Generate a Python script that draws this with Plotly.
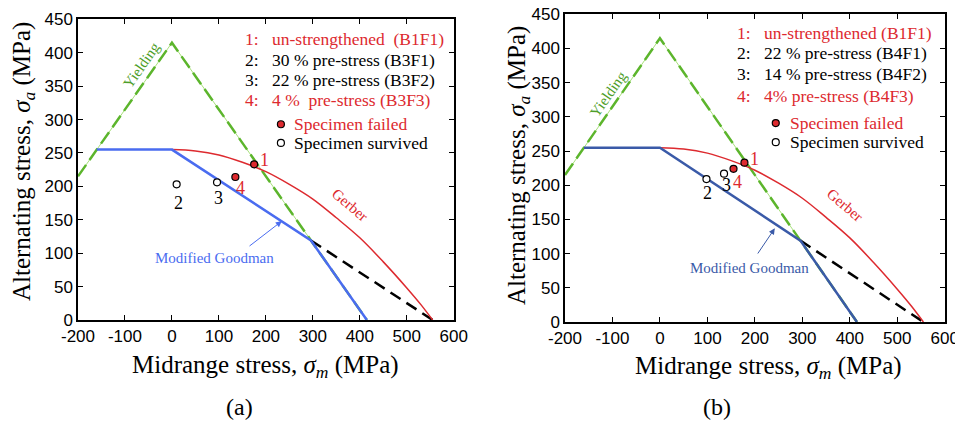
import plotly.graph_objects as go

# ---- data ----
x_ticks = [-200, -100, 0, 100, 200, 300, 400, 500, 600]
x_ticktext = ["-200", "-100", "0", "100", "200", "300", "400", "500", "600"]
y_ticks = [0, 50, 100, 150, 200, 250, 300, 350, 400, 450]

yield_x = [-200, 0, 415]
yield_y = [215, 415, 0]

goodman_x = [-160, 0, 296, 415]
goodman_y = [255, 255, 119, 0]

goodman_ext_x = [296, 555]
goodman_ext_y = [119, 0]

gerber_x = [0, 50, 100, 150, 200, 250, 300, 350, 400, 450, 500, 530, 555]
gerber_y = [255, 253, 247, 236, 222, 203, 181, 153, 123, 87, 48, 23, 0]

# panel (a) specimens
a_labels = ["1", "2", "3", "4"]
a_sm = [175, 10, 96, 135]
a_sa = [233, 203, 206, 214]
a_failed = [True, False, False, True]

# panel (b) specimens
b_labels = ["1", "2", "3", "4"]
b_sm = [178, 98, 135, 155]
b_sa = [233, 209, 217, 224]
b_failed = [True, False, False, True]

a_legend = ["un-strengthened  (B1F1)", "30 % pre-stress (B3F1)",
            "22 % pre-stress (B3F2)", "4 %  pre-stress (B3F3)"]
b_legend = ["un-strengthened (B1F1)", "22 % pre-stress (B4F1)",
            "14 % pre-stress (B4F2)", "4% pre-stress (B4F3)"]
legend_red = [True, False, False, True]

# ---- styles ----
RED = "#dd2a2f"
GREEN = "#5cb52c"
GREEN_T = "#4e9e2a"
BLUE_A = "#4a6cf0"
BLUE_B = "#3a5aa8"
SERIF = "Liberation Serif"
SANS = "Liberation Sans"

fig = go.Figure()

panels = [
    dict(xa="x", ya="y", blue=BLUE_A, sm=a_sm, sa=a_sa, failed=a_failed, labels=a_labels,
         lab_pos=[(198, 239), (13, 175), (100, 182), (145, 197)],
         legend=a_legend, leg_num_x=151, leg_txt_x=208, leg_y=[421, 389, 359, 329],
         mk_x=232, mk_txt_x=255, mk_y=[293, 265],
         gerber_lab=(379, 172), yield_lab=(-64, 381),
         goodman_lab=(91, 93), arrow_head=(234, 148), arrow_tail=(162, 109)),
    dict(xa="x2", ya="y2", blue=BLUE_B, sm=b_sm, sa=b_sa, failed=b_failed, labels=b_labels,
         lab_pos=[(200, 239), (101, 189), (141, 200), (164, 205)],
         legend=b_legend, leg_num_x=158, leg_txt_x=215, leg_y=[423, 394, 363, 330],
         mk_x=244, mk_txt_x=269, mk_y=[291, 263],
         gerber_lab=(389, 171), yield_lab=(-109, 334),
         goodman_lab=(189, 79), arrow_head=(242, 137), arrow_tail=(204, 98)),
]

annotations = []
for p in panels:
    xa, ya = p["xa"], p["ya"]
    fig.add_trace(go.Scatter(x=yield_x, y=yield_y, mode="lines", xaxis=xa, yaxis=ya,
                             line=dict(color="#a8e07c", width=1), showlegend=False, hoverinfo="skip"))
    fig.add_trace(go.Scatter(x=yield_x, y=yield_y, mode="lines", xaxis=xa, yaxis=ya,
                             line=dict(color=GREEN, width=2.5, dash="14px,6px"), showlegend=False))
    fig.add_trace(go.Scatter(x=goodman_ext_x, y=goodman_ext_y, mode="lines", xaxis=xa, yaxis=ya,
                             line=dict(color="black", width=2.5, dash="12px,7px"), showlegend=False))
    fig.add_trace(go.Scatter(x=gerber_x, y=gerber_y, mode="lines", xaxis=xa, yaxis=ya,
                             line=dict(color=RED, width=1.5, shape="spline"), showlegend=False))
    fig.add_trace(go.Scatter(x=goodman_x, y=goodman_y, mode="lines", xaxis=xa, yaxis=ya,
                             line=dict(color=p["blue"], width=2.5), showlegend=False))
    fig.add_trace(go.Scatter(
        x=p["sm"], y=p["sa"], mode="markers", xaxis=xa, yaxis=ya, showlegend=False,
        marker=dict(size=7, color=[RED if f else "white" for f in p["failed"]],
                    line=dict(color="black", width=1.2))))
    fig.add_trace(go.Scatter(
        x=[p["mk_x"], p["mk_x"]], y=p["mk_y"], mode="markers", xaxis=xa, yaxis=ya, showlegend=False,
        marker=dict(size=7, color=[RED, "white"], line=dict(color="black", width=1.2))))
    C = dict(xanchor="center", yanchor="middle", showarrow=False, xref=xa, yref=ya)
    L = dict(xanchor="left", yanchor="middle", showarrow=False, xref=xa, yref=ya)
    for lab, (lx, ly), f in zip(p["labels"], p["lab_pos"], p["failed"]):
        annotations.append(dict(x=lx, y=ly, text=lab,
                                font=dict(family=SERIF, size=18, color=RED if f else "black"), **C))
    for txt, ly, red, num in zip(p["legend"], p["leg_y"], legend_red, range(1, 5)):
        c = RED if red else "black"
        annotations.append(dict(x=p["leg_num_x"], y=ly, text=f"{num}:",
                                font=dict(family=SERIF, size=17.5, color=c), **L))
        annotations.append(dict(x=p["leg_txt_x"], y=ly, text=txt,
                                font=dict(family=SERIF, size=17.5, color=c), **L))
    annotations.append(dict(x=p["mk_txt_x"], y=p["mk_y"][0], text="Specimen failed",
                            font=dict(family=SERIF, size=17.5, color=RED), **L))
    annotations.append(dict(x=p["mk_txt_x"], y=p["mk_y"][1], text="Specimen survived",
                            font=dict(family=SERIF, size=17.5, color="black"), **L))
    annotations.append(dict(x=p["gerber_lab"][0], y=p["gerber_lab"][1], text="Gerber", textangle=40,
                            font=dict(family=SERIF, size=15, color=RED), **C))
    annotations.append(dict(x=p["yield_lab"][0], y=p["yield_lab"][1], text="Yielding", textangle=-55,
                            font=dict(family=SERIF, size=15, color=GREEN_T), **C))
    annotations.append(dict(x=p["goodman_lab"][0], y=p["goodman_lab"][1], text="Modified Goodman",
                            font=dict(family=SERIF, size=15, color=p["blue"]), **C))
    annotations.append(dict(x=p["arrow_head"][0], y=p["arrow_head"][1], xref=xa, yref=ya,
                            ax=p["arrow_tail"][0], ay=p["arrow_tail"][1], axref=xa, ayref=ya,
                            text="", showarrow=True, arrowhead=2, arrowsize=1.2, arrowwidth=1,
                            arrowcolor=p["blue"]))

# page is 963x425; the html body adds an 8px offset, so the figure is 8px smaller
OFF = 8
W, H = 963 - OFF, 425 - OFF

def px(x, y):
    return (x - OFF) / W, 1 - (y - OFF) / H

def xdom(x0, x1):
    return [(x0 - OFF) / W, (x1 - OFF) / W]

def ydom(y_bottom, y_top):
    return [1 - (y_bottom - OFF) / H, 1 - (y_top - OFF) / H]

P = dict(xref="paper", yref="paper", showarrow=False, xanchor="center", yanchor="middle")
for (tx, ty), (yx, yy), (lx, ly), lab in [((265, 366), (24, 162), (239, 407), "(a)"),
                                          ((768, 367), (518, 166), (717, 407), "(b)")]:
    a, b = px(tx, ty)
    annotations.append(dict(x=a, y=b, text="Midrange stress, <i>σ<sub>m</sub></i> (MPa)",
                            font=dict(family=SERIF, size=25, color="black"), **P))
    a, b = px(yx, yy)
    annotations.append(dict(x=a, y=b, textangle=-90,
                            text="Alternating stress, <i>σ<sub>a</sub></i> (MPa)",
                            font=dict(family=SERIF, size=25, color="black"), **P))
    a, b = px(lx, ly)
    annotations.append(dict(x=a, y=b, text=lab,
                            font=dict(family=SERIF, size=24, color="black"), **P))

axis_common = dict(showline=True, linecolor="black", linewidth=1.5, mirror="ticks",
                   ticks="inside", ticklen=5, tickwidth=1, tickcolor="black",
                   showgrid=False, zeroline=False, automargin=False,
                   ticklabeloverflow="allow",
                   tickfont=dict(family=SANS, size=17, color="black"))

fig.update_layout(
    width=W, height=H, autosize=False,
    margin=dict(l=0, r=0, t=0, b=0, autoexpand=False),
    paper_bgcolor="white", plot_bgcolor="white",
    showlegend=False,
    xaxis=dict(domain=xdom(78, 454), range=[-200, 600.5], tickvals=x_ticks, ticktext=x_ticktext,
               anchor="y", **axis_common),
    yaxis=dict(domain=ydom(320, 19), range=[0, 450.5], tickvals=y_ticks,
               anchor="x", **axis_common),
    xaxis2=dict(domain=xdom(565, 945), range=[-200, 600.5], tickvals=x_ticks, ticktext=x_ticktext,
                anchor="y2", **axis_common),
    yaxis2=dict(domain=ydom(322, 14), range=[0, 450.5], tickvals=y_ticks,
                anchor="x2", **axis_common),
    annotations=annotations,
)

fig.write_html("out.html")
